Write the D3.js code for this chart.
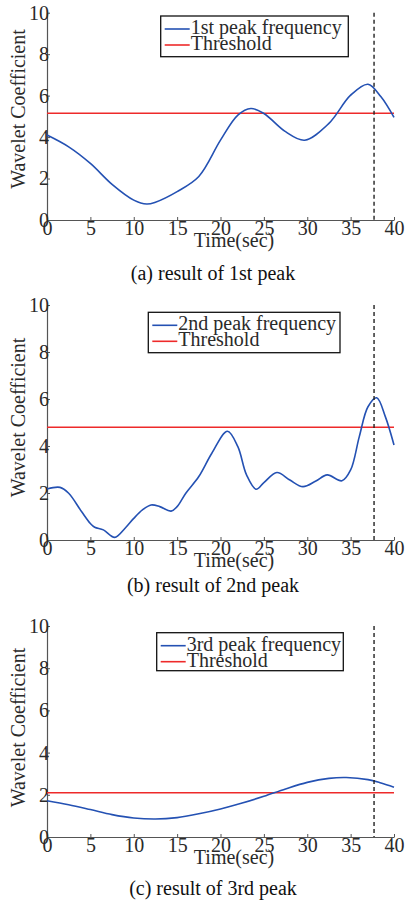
<!DOCTYPE html>
<html>
<head>
<meta charset="utf-8">
<script src="https://cdnjs.cloudflare.com/ajax/libs/d3/7.8.5/d3.min.js"></script>
<style>
  body { margin: 0; background: #fff; }
  svg text { font-family: "Liberation Serif", "Times New Roman", serif; }
</style>
</head>
<body>
<div id="chart"></div>
<script>
// readings taken off the three panels (time in sec, wavelet coefficient)
const time1 = [0, 2.5, 5, 7.5, 10, 11.5, 12.5, 15, 17.5, 20, 22, 23.5, 25, 27.5, 29.7, 32.5, 35, 37, 38.5, 40];
const peak1 = [4.1, 3.53, 2.73, 1.72, 0.96, 0.77, 0.86, 1.37, 2.1, 3.85, 5.06, 5.38, 5.14, 4.26, 3.85, 4.66, 6.02, 6.55, 5.94, 4.95];

const time2 = [0, 1.5, 2.5, 4, 5, 5.5, 6.5, 7.8, 9, 10, 11, 12, 13, 14.3, 15, 16, 17.5, 19, 20.8, 22, 23, 24.1, 25, 26.5, 28, 29.5, 31, 32.3, 34, 35, 36, 37, 38, 39, 40];
const peak2 = [2.17, 2.24, 1.99, 1.2, 0.7, 0.54, 0.43, 0.11, 0.5, 0.92, 1.28, 1.49, 1.42, 1.23, 1.42, 1.99, 2.7, 3.69, 4.63, 3.97, 2.77, 2.16, 2.44, 2.87, 2.55, 2.27, 2.51, 2.77, 2.52, 2.98, 4.4, 5.67, 6.05, 5.25, 4.04];

const time3 = [0, 2.5, 5, 7.5, 10, 12.5, 15, 17.5, 20, 22.5, 25, 27.5, 30, 32.5, 34.5, 37, 38.5, 40];
const peak3 = [1.72, 1.53, 1.3, 1.06, 0.9, 0.85, 0.92, 1.1, 1.33, 1.61, 1.93, 2.28, 2.59, 2.78, 2.82, 2.72, 2.56, 2.36];

const thresholds = [5.15, 4.8, 2.1];
const detectTime = 37.7;
const seriesNames = ["1st peak frequency", "2nd peak frequency", "3rd peak frequency"];
const captions = ["(a) result of 1st peak", "(b) result of 2nd peak", "(c) result of 3rd peak"];
const xTicks = [0, 5, 10, 15, 20, 25, 30, 35, 40];
const yTicks = [0, 2, 4, 6, 8, 10];

//layout of each panel on the page
const panels = [
    {t: time1, v: peak1, y0: 220, y10: 12.7, legend: [160.7, 16, 187.6, 40.7], cap: 280, titleY: 109},
    {t: time2, v: peak2, y0: 540, y10: 305, legend: [148.3, 312.3, 191.7, 40.4], cap: 592, titleY: 417.5},
    {t: time3, v: peak3, y0: 837, y10: 626, legend: [156.7, 632.7, 186.6, 38], cap: 895, titleY: 727.5}
];
const xLeft = 47, xRight = 394;
const blue = "#2451b3", red = "#ee2a2a";

const svg = d3.select("#chart").append("svg")
    .attr("width", 409)
    .attr("height", 905);

const scaleX = d3.scaleLinear().domain([0, 40]).range([xLeft, xRight]);

panels.forEach(function(p, i) {
    let g = svg.append("g");
    let scaleY = d3.scaleLinear().domain([0, 10]).range([p.y0, p.y10]);

    //axes, ticks pointing inwards
    let xAxis = g.append("g")
        .attr("transform", `translate(0, ${p.y0})`)
        .call(d3.axisBottom(scaleX).tickValues(xTicks).tickSizeInner(-3).tickSizeOuter(0).tickPadding(1));
    let yAxis = g.append("g")
        .attr("transform", `translate(${xLeft}, 0)`)
        .call(d3.axisLeft(scaleY).tickValues(yTicks).tickSizeInner(-3).tickSizeOuter(0).tickPadding(-2));
    [xAxis, yAxis].forEach(function(a) {
        a.select(".domain").attr("stroke", "#555").attr("stroke-width", 1.2);
        a.selectAll(".tick line").attr("stroke", "#555");
        a.selectAll(".tick text")
            .attr("font-size", 20)
            .attr("font-family", "Liberation Serif")
            .attr("fill", "#2a2a2a");
    });

    //threshold
    g.append("line")
        .attr("x1", scaleX(0)).attr("x2", scaleX(40))
        .attr("y1", scaleY(thresholds[i])).attr("y2", scaleY(thresholds[i]))
        .attr("stroke", red)
        .attr("stroke-width", 1.6);

    //peak curve
    let line = d3.line()
        .x((d, k) => scaleX(p.t[k]))
        .y(d => scaleY(d))
        .curve(d3.curveCatmullRom.alpha(0.5));
    g.append("path")
        .attr("d", line(p.v))
        .attr("fill", "none")
        .attr("stroke", blue)
        .attr("stroke-width", 1.6);

    //detection time marker
    g.append("line")
        .attr("x1", scaleX(detectTime)).attr("x2", scaleX(detectTime))
        .attr("y1", scaleY(10)).attr("y2", scaleY(0))
        .attr("stroke", "#222")
        .attr("stroke-width", 1.4)
        .attr("stroke-dasharray", "4,3");

    //legend
    let [lx, ly, lw, lh] = p.legend;
    let legend = g.append("g").attr("transform", `translate(${lx}, ${ly})`);
    legend.append("rect")
        .attr("width", lw).attr("height", lh)
        .attr("fill", "#fff")
        .attr("stroke", "#111")
        .attr("stroke-width", 1.3);
    [[seriesNames[i], blue], ["Threshold", red]].forEach(function(e, k) {
        let base = 18 + k * 16;
        legend.append("line")
            .attr("x1", 4).attr("x2", 29)
            .attr("y1", base - 5).attr("y2", base - 5)
            .attr("stroke", e[1])
            .attr("stroke-width", 1.6);
        legend.append("text")
            .attr("x", 30).attr("y", base)
            .attr("font-size", 20)
            .attr("fill", "#2a2a2a")
            .text(e[0]);
    });

    //axis titles
    g.append("text")
        .attr("x", 234).attr("y", p.y0 + 27)
        .attr("text-anchor", "middle")
        .attr("font-size", 20)
        .attr("fill", "#2a2a2a")
        .text("Time(sec)");
    g.append("text")
        .attr("transform", `translate(25, ${p.titleY}) rotate(-90)`)
        .attr("text-anchor", "middle")
        .attr("font-size", 20)
        .attr("fill", "#2a2a2a")
        .text("Wavelet Coefficient");

    //caption
    g.append("text")
        .attr("x", 213).attr("y", p.cap)
        .attr("text-anchor", "middle")
        .attr("font-size", 20)
        .attr("fill", "#111")
        .text(captions[i]);
});
</script>
</body>
</html>
